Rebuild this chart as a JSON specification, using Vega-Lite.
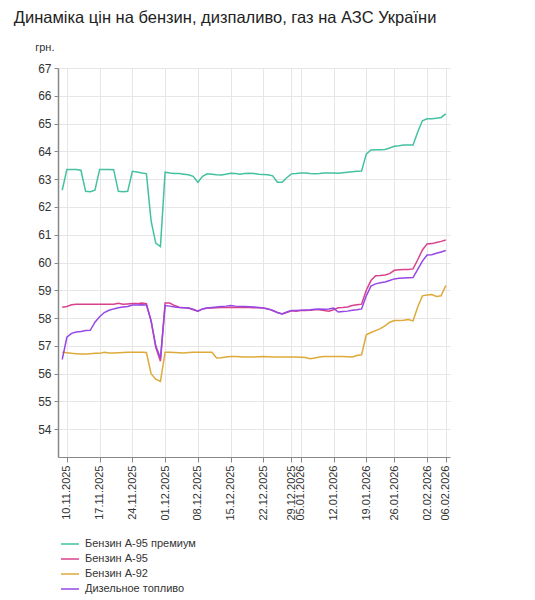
{
  "$schema": "https://vega.github.io/schema/vega-lite/v6.json",
  "width": 392,
  "height": 389,
  "padding": {"left": 13, "top": 9, "right": 10, "bottom": 5},
  "title": {
    "text": "Динаміка цін на бензин, дизпаливо, газ на АЗС України",
    "anchor": "start",
    "frame": "bounds",
    "dx": -21,
    "offset": 15,
    "fontSize": 16.5,
    "fontWeight": "normal",
    "color": "#222",
    "font": "Liberation Sans, Arial, sans-serif"
  },
  "data": {
    "values": [
      {"d": "09.11.2025", "prem": 62.6, "a95": 58.39, "a92": 56.77, "dt": 56.51},
      {"d": "10.11.2025", "prem": 63.35, "a95": 58.42, "a92": 56.75, "dt": 57.31},
      {"d": "11.11.2025", "prem": 63.35, "a95": 58.48, "a92": 56.73, "dt": 57.45},
      {"d": "12.11.2025", "prem": 63.35, "a95": 58.5, "a92": 56.72, "dt": 57.5},
      {"d": "13.11.2025", "prem": 63.32, "a95": 58.5, "a92": 56.71, "dt": 57.52},
      {"d": "14.11.2025", "prem": 62.56, "a95": 58.5, "a92": 56.71, "dt": 57.55},
      {"d": "15.11.2025", "prem": 62.55, "a95": 58.5, "a92": 56.72, "dt": 57.56},
      {"d": "16.11.2025", "prem": 62.6, "a95": 58.5, "a92": 56.73, "dt": 57.85},
      {"d": "17.11.2025", "prem": 63.35, "a95": 58.5, "a92": 56.73, "dt": 58.05},
      {"d": "18.11.2025", "prem": 63.35, "a95": 58.5, "a92": 56.77, "dt": 58.2},
      {"d": "19.11.2025", "prem": 63.35, "a95": 58.5, "a92": 56.74, "dt": 58.28},
      {"d": "20.11.2025", "prem": 63.34, "a95": 58.5, "a92": 56.74, "dt": 58.33},
      {"d": "21.11.2025", "prem": 62.56, "a95": 58.53, "a92": 56.75, "dt": 58.37},
      {"d": "22.11.2025", "prem": 62.55, "a95": 58.5, "a92": 56.76, "dt": 58.4},
      {"d": "23.11.2025", "prem": 62.56, "a95": 58.51, "a92": 56.77, "dt": 58.42},
      {"d": "24.11.2025", "prem": 63.28, "a95": 58.52, "a92": 56.77, "dt": 58.47},
      {"d": "25.11.2025", "prem": 63.26, "a95": 58.52, "a92": 56.77, "dt": 58.47},
      {"d": "26.11.2025", "prem": 63.22, "a95": 58.54, "a92": 56.77, "dt": 58.48},
      {"d": "27.11.2025", "prem": 63.2, "a95": 58.52, "a92": 56.76, "dt": 58.47},
      {"d": "28.11.2025", "prem": 61.5, "a95": 57.9, "a92": 56.0, "dt": 57.9},
      {"d": "29.11.2025", "prem": 60.7, "a95": 56.95, "a92": 55.8, "dt": 57.0},
      {"d": "30.11.2025", "prem": 60.57, "a95": 56.45, "a92": 55.72, "dt": 56.55},
      {"d": "01.12.2025", "prem": 63.25, "a95": 58.54, "a92": 56.77, "dt": 58.45},
      {"d": "02.12.2025", "prem": 63.22, "a95": 58.54, "a92": 56.77, "dt": 58.43},
      {"d": "03.12.2025", "prem": 63.2, "a95": 58.45, "a92": 56.76, "dt": 58.4},
      {"d": "04.12.2025", "prem": 63.2, "a95": 58.39, "a92": 56.75, "dt": 58.38},
      {"d": "05.12.2025", "prem": 63.18, "a95": 58.37, "a92": 56.74, "dt": 58.37},
      {"d": "06.12.2025", "prem": 63.16, "a95": 58.36, "a92": 56.76, "dt": 58.36},
      {"d": "07.12.2025", "prem": 63.1, "a95": 58.3, "a92": 56.77, "dt": 58.32},
      {"d": "08.12.2025", "prem": 62.89, "a95": 58.25, "a92": 56.77, "dt": 58.25},
      {"d": "09.12.2025", "prem": 63.1, "a95": 58.33, "a92": 56.77, "dt": 58.33},
      {"d": "10.12.2025", "prem": 63.19, "a95": 58.36, "a92": 56.77, "dt": 58.36},
      {"d": "11.12.2025", "prem": 63.18, "a95": 58.36, "a92": 56.77, "dt": 58.38},
      {"d": "12.12.2025", "prem": 63.16, "a95": 58.37, "a92": 56.56, "dt": 58.4},
      {"d": "13.12.2025", "prem": 63.15, "a95": 58.38, "a92": 56.57, "dt": 58.42},
      {"d": "14.12.2025", "prem": 63.18, "a95": 58.38, "a92": 56.6, "dt": 58.43},
      {"d": "15.12.2025", "prem": 63.21, "a95": 58.38, "a92": 56.62, "dt": 58.45},
      {"d": "16.12.2025", "prem": 63.2, "a95": 58.39, "a92": 56.62, "dt": 58.43},
      {"d": "17.12.2025", "prem": 63.18, "a95": 58.38, "a92": 56.61, "dt": 58.42},
      {"d": "18.12.2025", "prem": 63.2, "a95": 58.38, "a92": 56.6, "dt": 58.42},
      {"d": "19.12.2025", "prem": 63.21, "a95": 58.38, "a92": 56.6, "dt": 58.41},
      {"d": "20.12.2025", "prem": 63.2, "a95": 58.37, "a92": 56.6, "dt": 58.4},
      {"d": "21.12.2025", "prem": 63.18, "a95": 58.37, "a92": 56.61, "dt": 58.38},
      {"d": "22.12.2025", "prem": 63.17, "a95": 58.36, "a92": 56.62, "dt": 58.36},
      {"d": "23.12.2025", "prem": 63.16, "a95": 58.33, "a92": 56.61, "dt": 58.33},
      {"d": "24.12.2025", "prem": 63.12, "a95": 58.27, "a92": 56.6, "dt": 58.27},
      {"d": "26.12.2025", "prem": 62.89, "a95": 58.2, "a92": 56.6, "dt": 58.2},
      {"d": "27.12.2025", "prem": 62.89, "a95": 58.15, "a92": 56.6, "dt": 58.15},
      {"d": "28.12.2025", "prem": 63.05, "a95": 58.2, "a92": 56.6, "dt": 58.22},
      {"d": "29.12.2025", "prem": 63.19, "a95": 58.26, "a92": 56.6, "dt": 58.27},
      {"d": "30.12.2025", "prem": 63.2, "a95": 58.25, "a92": 56.6, "dt": 58.27},
      {"d": "05.01.2026", "prem": 63.22, "a95": 58.27, "a92": 56.59, "dt": 58.28},
      {"d": "06.01.2026", "prem": 63.22, "a95": 58.27, "a92": 56.58, "dt": 58.29},
      {"d": "07.01.2026", "prem": 63.2, "a95": 58.28, "a92": 56.54, "dt": 58.3},
      {"d": "08.01.2026", "prem": 63.19, "a95": 58.3, "a92": 56.56, "dt": 58.32},
      {"d": "09.01.2026", "prem": 63.2, "a95": 58.3, "a92": 56.6, "dt": 58.33},
      {"d": "10.01.2026", "prem": 63.22, "a95": 58.27, "a92": 56.62, "dt": 58.32},
      {"d": "11.01.2026", "prem": 63.22, "a95": 58.25, "a92": 56.62, "dt": 58.33},
      {"d": "12.01.2026", "prem": 63.22, "a95": 58.3, "a92": 56.62, "dt": 58.36},
      {"d": "13.01.2026", "prem": 63.21, "a95": 58.37, "a92": 56.62, "dt": 58.22},
      {"d": "14.01.2026", "prem": 63.23, "a95": 58.38, "a92": 56.62, "dt": 58.24},
      {"d": "15.01.2026", "prem": 63.25, "a95": 58.4, "a92": 56.61, "dt": 58.25},
      {"d": "16.01.2026", "prem": 63.27, "a95": 58.45, "a92": 56.6, "dt": 58.28},
      {"d": "17.01.2026", "prem": 63.28, "a95": 58.48, "a92": 56.65, "dt": 58.3},
      {"d": "18.01.2026", "prem": 63.29, "a95": 58.5, "a92": 56.68, "dt": 58.33},
      {"d": "19.01.2026", "prem": 63.9, "a95": 59.0, "a92": 57.4, "dt": 58.8},
      {"d": "20.01.2026", "prem": 64.05, "a95": 59.35, "a92": 57.48, "dt": 59.15},
      {"d": "21.01.2026", "prem": 64.06, "a95": 59.52, "a92": 57.55, "dt": 59.23},
      {"d": "22.01.2026", "prem": 64.06, "a95": 59.53, "a92": 57.62, "dt": 59.27},
      {"d": "23.01.2026", "prem": 64.07, "a95": 59.55, "a92": 57.72, "dt": 59.3},
      {"d": "24.01.2026", "prem": 64.12, "a95": 59.6, "a92": 57.85, "dt": 59.35},
      {"d": "26.01.2026", "prem": 64.18, "a95": 59.72, "a92": 57.91, "dt": 59.41},
      {"d": "27.01.2026", "prem": 64.2, "a95": 59.74, "a92": 57.91, "dt": 59.43},
      {"d": "28.01.2026", "prem": 64.23, "a95": 59.75, "a92": 57.92, "dt": 59.44},
      {"d": "29.01.2026", "prem": 64.23, "a95": 59.75, "a92": 57.95, "dt": 59.45},
      {"d": "30.01.2026", "prem": 64.23, "a95": 59.77, "a92": 57.9, "dt": 59.46},
      {"d": "31.01.2026", "prem": 64.7, "a95": 60.1, "a92": 58.4, "dt": 59.75},
      {"d": "01.02.2026", "prem": 65.1, "a95": 60.45, "a92": 58.8, "dt": 60.05},
      {"d": "02.02.2026", "prem": 65.17, "a95": 60.67, "a92": 58.83, "dt": 60.27},
      {"d": "03.02.2026", "prem": 65.17, "a95": 60.68, "a92": 58.85, "dt": 60.28},
      {"d": "04.02.2026", "prem": 65.19, "a95": 60.72, "a92": 58.78, "dt": 60.33},
      {"d": "05.02.2026", "prem": 65.22, "a95": 60.76, "a92": 58.8, "dt": 60.38},
      {"d": "06.02.2026", "prem": 65.35, "a95": 60.81, "a92": 59.17, "dt": 60.43}
    ]
  },
  "transform": [
    {"fold": ["prem", "a95", "a92", "dt"], "as": ["fuel", "price"]}
  ],
  "mark": {"type": "line", "strokeWidth": 1.5},
  "encoding": {
    "x": {
      "field": "d",
      "type": "ordinal",
      "sort": null,
      "scale": {"type": "point", "padding": 0.9},
      "axis": {
        "title": null,
        "grid": true,
        "labelAngle": -90,
        "labelPadding": 3,
        "tickSize": 5,
        "values": ["10.11.2025", "17.11.2025", "24.11.2025", "01.12.2025", "08.12.2025", "15.12.2025", "22.12.2025", "29.12.2025", "05.01.2026", "12.01.2026", "19.01.2026", "26.01.2026", "02.02.2026", "06.02.2026"]
      }
    },
    "y": {
      "field": "price",
      "type": "quantitative",
      "scale": {"domain": [53, 67], "nice": false, "zero": false},
      "axis": {
        "title": "грн.",
        "titleAngle": 0,
        "titleAlign": "right",
        "titleBaseline": "alphabetic",
        "titleX": -4,
        "titleY": -18,
        "titleFontSize": 11,
        "titleFontWeight": "normal",
        "labelFontSize": 12,
        "labelPadding": 3,
        "tickSize": 4,
        "domainWidth": 1.5,
        "values": [54, 55, 56, 57, 58, 59, 60, 61, 62, 63, 64, 65, 66, 67]
      }
    },
    "color": {
      "field": "fuel",
      "type": "nominal",
      "scale": {
        "domain": ["prem", "a95", "a92", "dt"],
        "range": ["#43c1a0", "#d9418c", "#ddaa3a", "#9747e6"]
      },
      "legend": {
        "title": null,
        "orient": "none",
        "legendX": 2,
        "legendY": 466,
        "direction": "vertical",
        "symbolType": "stroke",
        "symbolSize": 324,
        "symbolStrokeWidth": 1.5,
        "labelFontSize": 11,
        "labelOffset": 5,
        "rowPadding": -4,
        "labelExpr": "{'prem': 'Бензин А-95 премиум', 'a95': 'Бензин А-95', 'a92': 'Бензин А-92', 'dt': 'Дизельное топливо'}[datum.value]"
      }
    }
  },
  "config": {
    "font": "Liberation Sans, Arial, sans-serif",
    "view": {"stroke": null},
    "axis": {
      "labelFont": "Liberation Sans, Arial, sans-serif",
      "titleFont": "Liberation Sans, Arial, sans-serif",
      "labelColor": "#333",
      "titleColor": "#333",
      "labelFontSize": 11,
      "domainColor": "#888",
      "tickColor": "#888",
      "gridColor": "#e6e6e6"
    },
    "legend": {
      "labelFont": "Liberation Sans, Arial, sans-serif",
      "labelColor": "#333"
    }
  }
}
